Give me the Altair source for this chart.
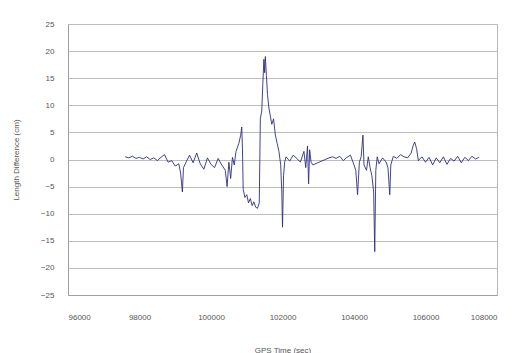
import altair as alt
import pandas as pd

gps_time = [
    97600, 97700, 97800, 97900, 98000, 98100, 98200, 98300, 98400, 98500,
    98600, 98700, 98800, 98900, 99000, 99100, 99150, 99200, 99230, 99300,
    99400, 99500, 99600, 99700, 99800, 99900, 100000, 100100, 100200, 100300,
    100400, 100450, 100500, 100550, 100600, 100650, 100700, 100780, 100830, 100860,
    100880, 100900, 100950, 101000, 101050, 101100, 101150, 101200, 101250, 101300,
    101350, 101380, 101420, 101450, 101480, 101500, 101520, 101550, 101580, 101620,
    101660, 101700, 101750, 101800, 101850, 101900, 101950, 101980, 102000, 102030,
    102060, 102100, 102200, 102300, 102400, 102500, 102600, 102650, 102700, 102730,
    102760, 102800, 102850, 103300, 103400, 103500, 103600, 103700, 103800, 103900,
    104000, 104050, 104100, 104150, 104200, 104250, 104280, 104350, 104400, 104450,
    104500, 104550, 104580, 104610, 104650, 104700, 104800, 104900, 104950, 105000,
    105030, 105100, 105200, 105300, 105400, 105500, 105600, 105650, 105700, 105750,
    105800, 105900, 106000, 106100, 106200, 106300, 106400, 106500, 106600, 106700,
    106800, 106900, 107000, 107100, 107200, 107300, 107400, 107500,
]
length_diff = [
    0.5, 0.3, 0.6, 0.2, 0.4, 0.1, 0.5, 0.0, 0.3, -0.2,
    0.4, 0.9, -0.5, -0.2, -1.2, -0.8, -2.5, -6.0, -1.5, -0.5,
    0.8, -0.6, 1.2, -0.8, -1.8, 0.3, -0.9, -1.5, 0.2, -1.0,
    -2.0, -5.0, -0.5, -3.5, 0.4, -1.0, 1.5, 3.0, 4.5, 6.0,
    2.0, -5.5, -7.0, -6.5, -8.0, -7.2, -8.5, -7.8, -8.8, -9.0,
    -8.0, 7.5, 9.0, 14.0, 18.5, 16.0, 19.0, 15.5, 12.0, 9.5,
    8.0, 6.5, 7.5, 4.5, 3.0, 1.5, -1.0, -6.0, -12.5, -3.0,
    -0.5, 0.5, -0.3, 0.8, 0.2, -0.5, 1.5, -1.5, 2.5, -4.5,
    1.8, -0.5, -1.0, 0.3, 0.5, 0.2, 0.6, -0.2, 0.4, 0.8,
    -1.0, -2.0, -6.5, -0.5, 0.5, 4.5, -1.0, -2.0, 0.5, -1.5,
    -3.0, -6.0, -17.0, -2.0, 0.5, -0.8, 0.3, -0.5, -1.5, -6.5,
    -1.0, 0.6, 0.2, 0.9, 0.5, 0.3, 1.2, 2.5, 3.2, 2.0,
    -0.2, 0.5, -0.5, 0.4, -1.0, 0.3, -0.6, 0.5, -0.9, 0.2,
    -0.3, 0.6, -0.6, 0.4, -0.2, 0.6, 0.1, 0.4,
]
x_ticks = [96000, 98000, 100000, 102000, 104000, 106000, 108000]
y_ticks = [-25, -20, -15, -10, -5, 0, 5, 10, 15, 20, 25]

df = pd.DataFrame({"t": gps_time, "d": length_diff})

chart = (
    alt.Chart(df)
    .mark_line(color="#2e2e82", strokeWidth=0.9)
    .encode(
        x=alt.X(
            "t:Q",
            scale=alt.Scale(domain=[96000, 108000], nice=False, zero=False),
            axis=alt.Axis(
                values=x_ticks, format="d", title="GPS Time (sec)", grid=False,
                ticks=False, labelPadding=18, titlePadding=25,
            ),
        ),
        y=alt.Y(
            "d:Q",
            scale=alt.Scale(domain=[-25, 25], nice=False),
            axis=alt.Axis(
                values=y_ticks, title="Length Difference (cm)", grid=True,
                ticks=False, labelPadding=14, titlePadding=20,
            ),
        ),
    )
    .properties(
        width=429, height=271, autosize=alt.AutoSizeParams(type="none"),
        padding={"left": 60, "top": 16, "right": 11, "bottom": 58},
    )
    .configure_view(stroke="#b8b8b8", strokeWidth=1)
    .configure_axis(
        labelFont="Liberation Sans", titleFont="Liberation Sans",
        labelFontSize=8, titleFontSize=8, titleFontWeight="normal",
        labelColor="#555555", titleColor="#555555",
        domainColor="#a0a0a0", gridColor="#bdbdbd", gridWidth=1,
    )
)

chart.save("out.html", embed_options={"renderer": "svg", "actions": False})
